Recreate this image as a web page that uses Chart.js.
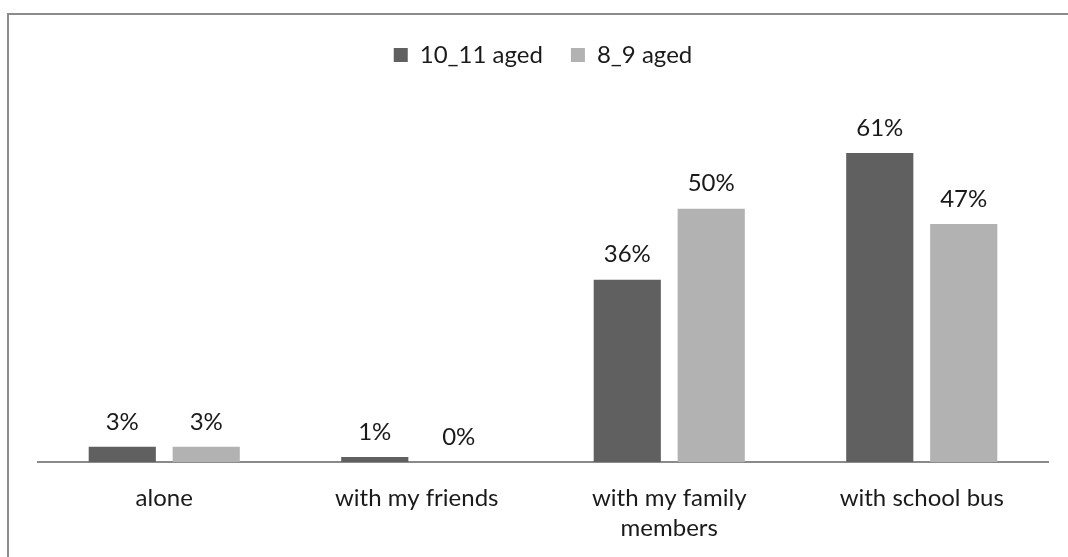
<!DOCTYPE html>
<html>
<head>
<meta charset="utf-8">
<title>How children travel to school</title>
<script src="https://cdn.jsdelivr.net/npm/chart.js@4.4.1/dist/chart.umd.min.js"></script>
<style>
    html, body {
        margin: 0;
        padding: 0;
        background: #ffffff;
        overflow: hidden;
    }
    .chart-frame {
        position: relative;
        width: 1068px;
        height: 557px;
    }
    .chart-frame .outline {
        position: absolute;
        left: 7px;
        top: 13px;
        width: 1200px;
        height: 700px;
        border-left: 2px solid #8c8c8c;
        border-top: 2px solid #8c8c8c;
    }
    .chart-frame canvas {
        position: absolute;
        left: 0;
        top: 0;
    }
</style>
</head>
<body>
<div class="chart-frame">
    <div class="outline"></div>
    <canvas id="travelChart" width="1068" height="557"></canvas>
</div>

<script>
// Categories and percentages per age group
const categories = ['alone', 'with my friends', ['with my family', 'members'], 'with school bus'];
const olderGroup = [3, 1, 36, 61];   // 10_11 aged
const youngerGroup = [3, 0, 50, 47]; // 8_9 aged
const seriesNames = ['10_11 aged', '8_9 aged'];
const yMax = 76;

const baseFont = 'Lato, "Open Sans", sans-serif';

// Prints the value above each bar
const valueLabels = {
    id: 'valueLabels',
    afterDatasetsDraw(chart) {
        const ctx = chart.ctx;
        ctx.save();
        ctx.font = '24px ' + baseFont;
        ctx.fillStyle = '#1a1a1a';
        ctx.textAlign = 'center';
        ctx.textBaseline = 'middle';
        chart.data.datasets.forEach(function(ds, i) {
            const meta = chart.getDatasetMeta(i);
            meta.data.forEach(function(bar, j) {
                ctx.fillText(ds.data[j] + '%', bar.x, bar.y - 25);
            });
        });
        ctx.restore();
    }
};

document.addEventListener('DOMContentLoaded', function() {
    const ctx = document.getElementById('travelChart');

    new Chart(ctx, {
        type: 'bar',
        data: {
            labels: categories,
            datasets: [{
                label: seriesNames[0],
                data: olderGroup,
                backgroundColor: '#606060'
            }, {
                label: seriesNames[1],
                data: youngerGroup,
                backgroundColor: '#b2b2b2'
            }]
        },
        options: {
            responsive: false,
            animation: false,
            categoryPercentage: 0.665,
            barPercentage: 0.8,
            layout: {
                padding: { left: 38, right: 20, top: 15, bottom: 0 }
            },
            plugins: {
                legend: {
                    position: 'top',
                    labels: {
                        boxWidth: 14,
                        boxHeight: 14,
                        padding: 28,
                        color: '#1a1a1a',
                        font: { family: baseFont, size: 24 }
                    }
                },
                tooltip: { enabled: false }
            },
            scales: {
                x: {
                    grid: { display: false },
                    border: { display: true, color: '#8a8a8a', width: 2 },
                    ticks: {
                        color: '#1a1a1a',
                        padding: 13,
                        maxRotation: 0,
                        autoSkip: false,
                        font: { family: baseFont, size: 24, lineHeight: 1.25 }
                    },
                    // keep the baseline at a fixed height above the bottom edge
                    afterFit: function(scale) {
                        scale.height = 95;
                    }
                },
                y: {
                    display: false,
                    min: 0,
                    max: yMax
                }
            }
        },
        plugins: [valueLabels]
    });
});
</script>
</body>
</html>
